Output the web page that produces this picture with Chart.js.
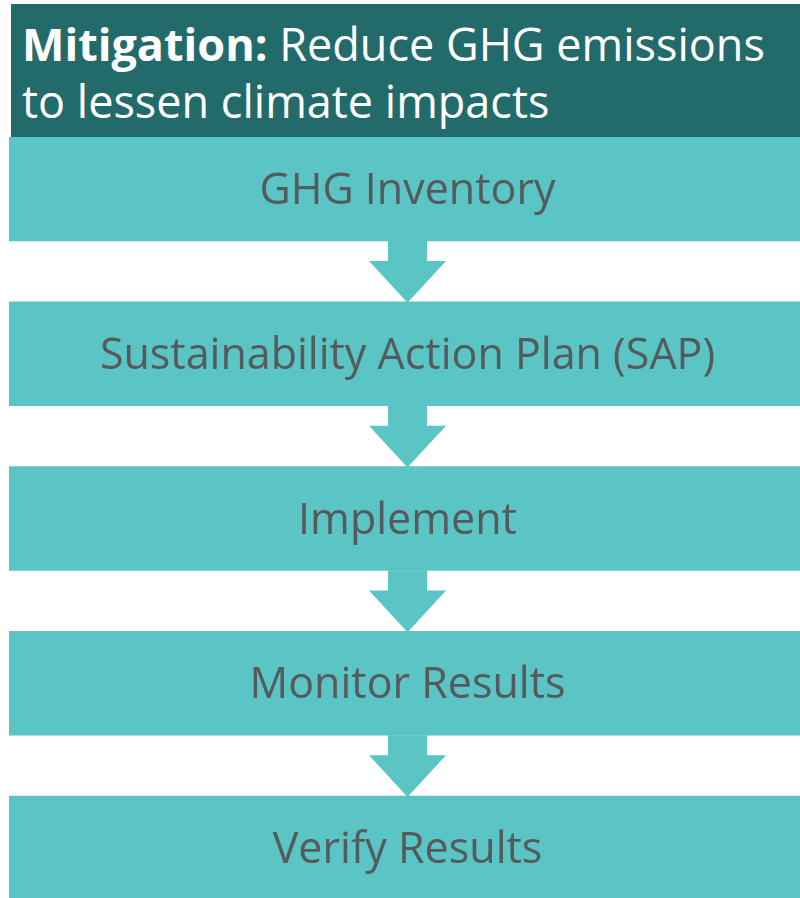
<!DOCTYPE html>
<html>
<head>
<meta charset="utf-8">
<script src="https://cdn.jsdelivr.net/npm/chart.js@4"></script>
<style>
    html, body { margin: 0; padding: 0; background: #fff; overflow: hidden; }
    #page { position: relative; width: 800px; height: 898px; overflow: hidden; }
    #header {
        position: absolute; left: 11px; top: 4px; width: 789px; height: 133px;
        box-sizing: border-box; padding: 11px 0 0 11px;
        background: #236b6b; color: #fff;
        font-family: "Open Sans", sans-serif; font-size: 45px; line-height: 57px;
        white-space: nowrap;
    }
    #header b { font-weight: 700; }
    #flow { position: absolute; left: 0; top: 137px; width: 806px; height: 761px; }
</style>
</head>
<body>
<div id="page">
    <div id="header"><b>Mitigation:</b> Reduce GHG emissions<br>to lessen climate impacts</div>
    <div id="flow"><canvas id="flow-chart"></canvas></div>
</div>
<script>
// Steps of the process, top to bottom
const steps = ['GHG Inventory', 'Sustainability Action Plan (SAP)', 'Implement', 'Monitor Results', 'Verify Results'];
const stepOrder = [0, 1, 2, 3, 4];
const stepSpan = [[0, 1], [0, 1], [0, 1], [0, 1], [0, 1]];

const BOX_COLOR = '#5bc4c4';
const TEXT_COLOR = '#555a5d';
const STEP_PX = 164.75;   // distance between box centres
const BOX_PX = 104;       // box height

const flowHeight = 761;
const yMin = -(BOX_PX / 2) / STEP_PX;
const yMax = yMin + flowHeight / STEP_PX;

// Arrows between the boxes and the step labels
const flowPlugin = {
    id: 'flowDecor',
    afterDatasetsDraw(chart) {
        const ctx = chart.ctx;
        const meta = chart.getDatasetMeta(0);
        const xScale = chart.scales.x;
        const cx = xScale.getPixelForValue(0.5);

        ctx.save();
        ctx.fillStyle = BOX_COLOR;
        for (let i = 0; i < meta.data.length - 1; i++) {
            const bar = meta.data[i];
            const next = meta.data[i + 1];
            const top = bar.y + bar.height / 2;
            const tip = next.y - next.height / 2 + 1;
            const neck = top + 20;
            ctx.beginPath();
            ctx.moveTo(cx - 19.5, top);
            ctx.lineTo(cx + 19.5, top);
            ctx.lineTo(cx + 19.5, neck);
            ctx.lineTo(cx + 38.5, neck);
            ctx.lineTo(cx, tip);
            ctx.lineTo(cx - 38.5, neck);
            ctx.lineTo(cx - 19.5, neck);
            ctx.closePath();
            ctx.fill();
        }

        ctx.fillStyle = TEXT_COLOR;
        ctx.font = '43px "Open Sans", sans-serif';
        ctx.textAlign = 'center';
        ctx.textBaseline = 'alphabetic';
        meta.data.forEach((bar, i) => {
            ctx.fillText(steps[i], cx, bar.y + 15);
        });
        ctx.restore();
    }
};

const flowChart = new Chart(document.getElementById('flow-chart').getContext('2d'), {
    type: 'bar',
    data: {
        labels: steps,
        datasets: [{
            data: stepOrder.map((pos, i) => ({ y: pos, x: stepSpan[i] })),
            backgroundColor: BOX_COLOR,
            borderWidth: 0,
            barThickness: BOX_PX
        }]
    },
    options: {
        indexAxis: 'y',
        responsive: true,
        maintainAspectRatio: false,
        animation: false,
        layout: { padding: { left: 9, right: 0, top: 0, bottom: 0 } },
        plugins: {
            legend: { display: false },
            tooltip: { enabled: false }
        },
        scales: {
            x: { type: 'linear', min: 0, max: 1, offset: false, display: false },
            y: { type: 'linear', reverse: true, min: yMin, max: yMax, offset: false, display: false }
        }
    },
    plugins: [flowPlugin]
});
</script>
</body>
</html>
